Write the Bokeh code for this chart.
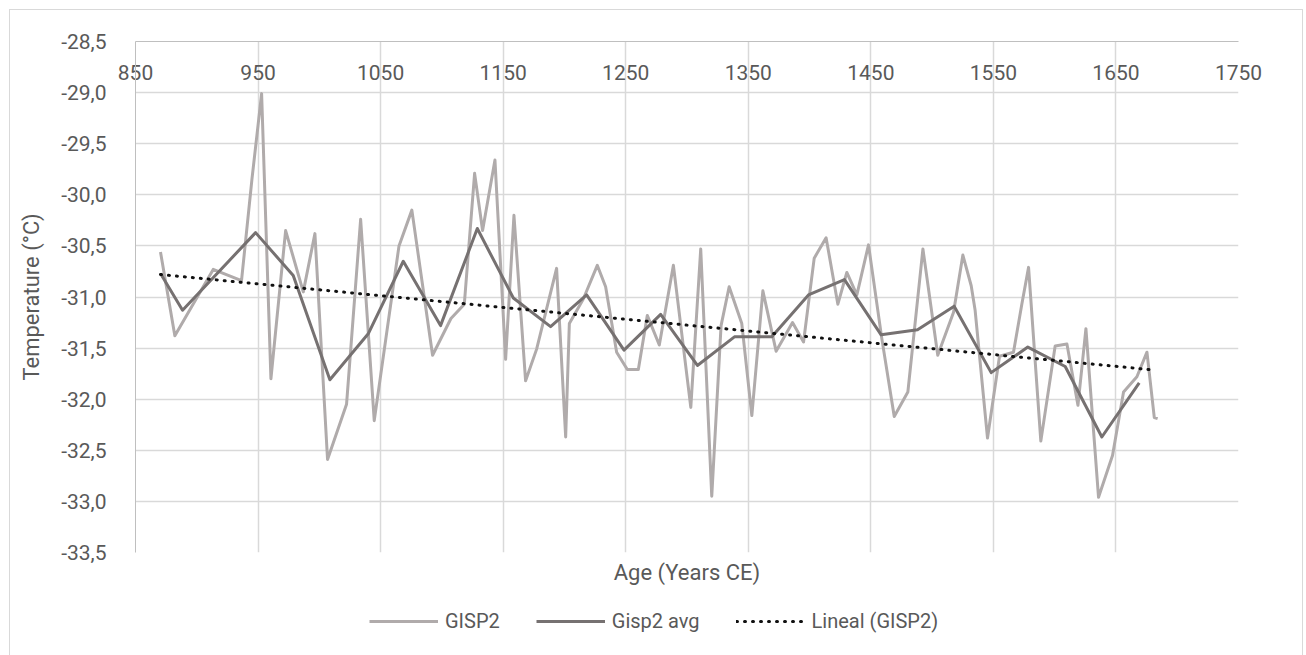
from bokeh.plotting import figure
from bokeh.layouts import column
from bokeh.models import Range1d, LinearAxis, FixedTicker, Legend, LegendItem
from bokeh.embed import file_html
from bokeh.resources import INLINE

# ---- data ----
gisp2_years = [870.4, 882.1, 913.4, 936.5, 945.0, 952.9, 960.5, 972.5, 986.9, 996.4,
               1006.7, 1022.2, 1033.7, 1044.8, 1065.0, 1075.5, 1092.4, 1107.4, 1118.3, 1126.7,
               1133.2, 1143.3, 1152.0, 1158.8, 1168.3, 1177.3, 1193.6, 1201.0, 1204.0, 1215.4,
               1226.8, 1233.6, 1242.6, 1251.3, 1260.3, 1267.6, 1277.4, 1288.9, 1303.1, 1311.2,
               1320.2, 1327.8, 1334.4, 1344.7, 1352.9, 1361.9, 1372.7, 1386.1, 1395.1, 1403.8,
               1413.5, 1423.1, 1430.4, 1438.6, 1448.1, 1459.0, 1469.1, 1480.2, 1492.5, 1504.6,
               1517.5, 1525.1, 1531.9, 1535.1, 1545.2, 1555.0, 1566.4, 1573.2, 1578.7, 1588.7,
               1600.4, 1610.0, 1619.0, 1625.5, 1635.8, 1647.2, 1656.2, 1667.1, 1675.3, 1681.3,
               1684.0]
gisp2_temps = [-30.56, -31.38, -30.73, -30.84, -29.85, -29.01, -31.80, -30.35, -30.95, -30.38,
               -32.59, -32.05, -30.24, -32.21, -30.50, -30.15, -31.57, -31.21, -31.07, -29.79,
               -30.35, -29.66, -31.61, -30.20, -31.82, -31.51, -30.72, -32.37, -31.26, -31.02,
               -30.69, -30.90, -31.54, -31.71, -31.71, -31.18, -31.47, -30.69, -32.08, -30.53,
               -32.95, -31.28, -30.90, -31.26, -32.16, -30.94, -31.53, -31.25, -31.44, -30.62,
               -30.42, -31.07, -30.76, -30.98, -30.49, -31.41, -32.17, -31.93, -30.53, -31.57,
               -31.15, -30.59, -30.89, -31.13, -32.38, -31.58, -31.54, -31.07, -30.71, -32.41,
               -31.48, -31.46, -32.06, -31.31, -32.96, -32.55, -31.93, -31.78, -31.54, -32.18,
               -32.19]

avg_years = [870.4, 888.4, 948.0, 978.7, 1008.6, 1039.9, 1068.5, 1098.9, 1128.9, 1158.3,
             1188.7, 1218.1, 1248.6, 1278.5, 1308.5, 1338.7, 1369.2, 1399.1, 1428.5, 1458.4,
             1488.1, 1518.0, 1548.2, 1578.1, 1608.6, 1638.5, 1669.0]
avg_temps = [-30.77, -31.13, -30.37, -30.79, -31.81, -31.36, -30.65, -31.28, -30.33, -31.01,
             -31.29, -30.98, -31.52, -31.17, -31.67, -31.39, -31.39, -30.98, -30.83, -31.37,
             -31.32, -31.09, -31.74, -31.49, -31.68, -32.37, -31.84]

trend_years = [870.4, 1677.4]
trend_temps = [-30.78, -31.71]

x_ticks = [850, 950, 1050, 1150, 1250, 1350, 1450, 1550, 1650, 1750]
x_tick_labels = ["850", "950", "1050", "1150", "1250", "1350", "1450", "1550", "1650", "1750"]
y_ticks = [-33.5, -33.0, -32.5, -32.0, -31.5, -31.0, -30.5, -30.0, -29.5, -29.0, -28.5]
y_tick_labels = ["-33,5", "-33,0", "-32,5", "-32,0", "-31,5", "-31,0", "-30,5", "-30,0",
                 "-29,5", "-29,0", "-28,5"]

series_names = ["GISP2", "Gisp2 avg", "Lineal (GISP2)"]
x_title = "Age (Years CE)"
y_title = "Temperature (°C)"

# ---- styling ----
FONT = "Roboto"
TXT = "#595959"
GRID = "#d9d9d9"
AXIS = "#bfbfbf"
C_GISP2 = "#b0abab"
C_AVG = "#767171"
C_TREND = "#111111"

p = figure(width=1292, height=596,
           x_range=Range1d(850, 1750), y_range=Range1d(-33.5, -28.5),
           x_axis_location="above",
           output_backend="svg", toolbar_location=None,
           min_border_left=125, min_border_right=64, min_border_top=31, min_border_bottom=54,
           background_fill_color="white", border_fill_color="white")
p.outline_line_color = None

# x axis crosses at the top (-28.5); its labels sit just under it, inside the plot
xa = p.xaxis[0]
xa.ticker = FixedTicker(ticks=x_ticks)
xa.major_label_overrides = {t: l for t, l in zip(x_ticks, x_tick_labels)}
xa.axis_line_color = AXIS
xa.axis_line_width = 1
xa.major_tick_line_color = None
xa.minor_tick_line_color = None
xa.major_label_standoff = -44
xa.major_label_text_font = FONT
xa.major_label_text_font_size = "21px"
xa.major_label_text_color = TXT

# bottom axis carrying only the title
xt = LinearAxis(ticker=FixedTicker(ticks=[]), axis_label=x_title,
                axis_line_color=None, major_tick_line_color=None, minor_tick_line_color=None,
                axis_label_standoff=7, axis_label_text_font=FONT,
                axis_label_text_font_size="22px", axis_label_text_color=TXT,
                axis_label_text_font_style="normal")
p.add_layout(xt, "below")

ya = p.yaxis[0]
ya.ticker = FixedTicker(ticks=y_ticks)
ya.major_label_overrides = {t: l for t, l in zip(y_ticks, y_tick_labels)}
ya.axis_line_color = AXIS
ya.axis_line_width = 1
ya.major_tick_line_color = None
ya.minor_tick_line_color = None
ya.major_label_standoff = 23
ya.major_label_text_font = FONT
ya.major_label_text_font_size = "21px"
ya.major_label_text_color = TXT
ya.axis_label = y_title
ya.axis_label_standoff = 14
ya.axis_label_text_font = FONT
ya.axis_label_text_font_size = "22px"
ya.axis_label_text_color = TXT
ya.axis_label_text_font_style = "normal"

p.xgrid.grid_line_color = GRID
p.xgrid.grid_line_width = 1.5
p.ygrid.grid_line_color = GRID
p.ygrid.grid_line_width = 1.5

p.line(gisp2_years, gisp2_temps, line_color=C_GISP2, line_width=3, line_join="round")
p.line(avg_years, avg_temps, line_color=C_AVG, line_width=3, line_join="round")
p.line(trend_years, trend_temps, line_color=C_TREND, line_width=3,
       line_dash="1 7", line_cap="round")

# ---- legend strip under the chart (same series, drawn outside its visible range) ----
lf = figure(width=1292, height=49, x_range=Range1d(0, 1), y_range=Range1d(0, 1),
            x_axis_location=None, y_axis_location=None,
            output_backend="svg", toolbar_location=None,
            min_border_left=0, min_border_right=0, min_border_top=0, min_border_bottom=0,
            background_fill_color="white", border_fill_color="white")
lf.outline_line_color = None
lf.grid.visible = False
l1 = lf.line(gisp2_years, gisp2_temps, line_color=C_GISP2, line_width=3)
l2 = lf.line(avg_years, avg_temps, line_color=C_AVG, line_width=3)
l3 = lf.line(trend_years, trend_temps, line_color=C_TREND, line_width=3,
             line_dash="1 7", line_cap="round")

legend = Legend(items=[LegendItem(label=series_names[0], renderers=[l1]),
                       LegendItem(label=series_names[1], renderers=[l2]),
                       LegendItem(label=series_names[2], renderers=[l3])],
                orientation="horizontal", location=(234, 22),
                glyph_width=69, glyph_height=20, label_standoff=7, spacing=36,
                padding=0, margin=0, border_line_color=None, background_fill_alpha=0,
                label_text_font=FONT, label_text_font_size="20px", label_text_color=TXT)
lf.add_layout(legend)

layout = column(p, lf, spacing=0, margin=(9, 5, 1, 9),
                styles={"border": "1px solid #d9d9d9"})

open("out.html", "w").write(file_html(layout, INLINE))
